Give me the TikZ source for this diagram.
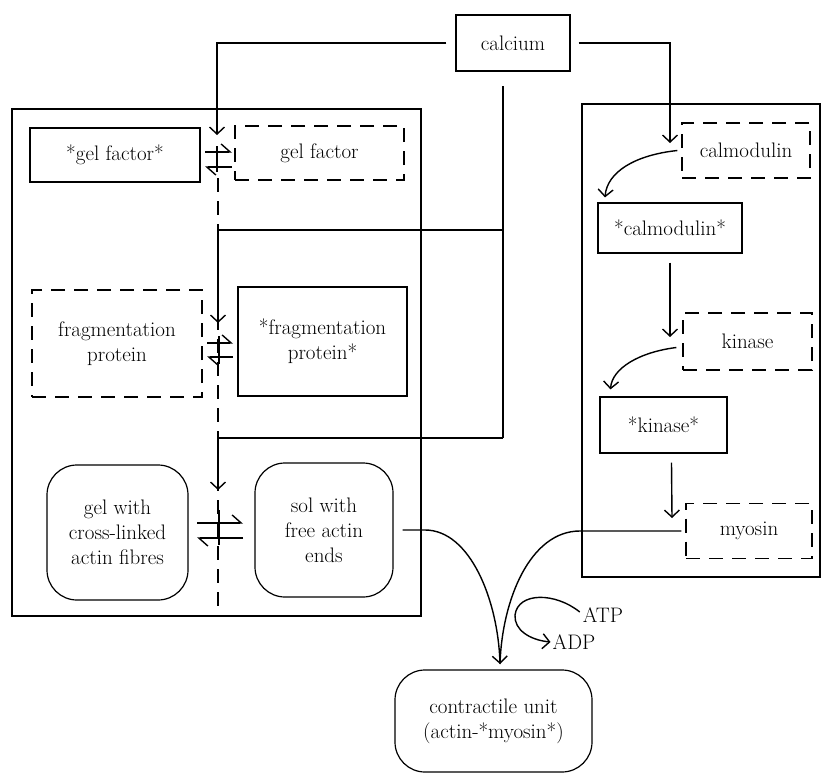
\documentclass[tikz,border=0pt]{standalone}
\usetikzlibrary{arrows.meta}
\begin{document}
\begin{tikzpicture}[x=1pt,y=-1pt,
  every node/.style={font=\fontsize{21}{25}\selectfont, align=center, inner sep=0pt},
  solidbox/.style={draw, line width=1.2pt},
  dashbox/.style={draw, line width=1.2pt, dash pattern=on 14pt off 9pt},
  roundbox/.style={draw, line width=1.2pt, rounded corners=30pt},
  conn/.style={line width=1.4pt},
  tip/.style={-{Straight Barb[length=7pt,width=15pt,line width=1.4pt]}},
  harp/.style={line width=1.4pt, -{Straight Barb[harpoon,length=9pt,width=16pt,line width=1.4pt]}},
  dashline/.style={line width=1.2pt, dash pattern=on 14pt off 9pt},
]
\useasboundingbox (0,0) rectangle (822,776);

% outer frames
\draw[line width=1.3pt] (12,109) rectangle (421,616);
\draw[line width=1.3pt] (582,104) rectangle (820,577);

% nodes
\node[solidbox, minimum width=114pt, minimum height=56pt] (calcium) at (513,43) {calcium};

\node[solidbox, minimum width=170pt, minimum height=54pt] (gelA) at (115,155) {*gel factor*};
\node[dashbox, minimum width=169pt, minimum height=54pt] (gelB) at (319.5,153) {gel factor};

\node[dashbox, minimum width=170pt, minimum height=107pt] (fragA) at (117,343.5) {fragmentation\\protein};
\node[solidbox, minimum width=169pt, minimum height=109pt] (fragB) at (322.5,341.5) {*fragmentation\\protein*};

\node[roundbox, minimum width=141pt, minimum height=135pt] (gel) at (117.5,532.5) {gel with\\cross-linked\\actin fibres};
\node[roundbox, minimum width=138pt, minimum height=134pt] (sol) at (324,530) {sol with\\free actin\\ends};

\node[dashbox, minimum width=128pt, minimum height=55pt] (calmod) at (746,150.5) {calmodulin};
\node[solidbox, minimum width=144pt, minimum height=50pt] (acalmod) at (670,228) {*calmodulin*};
\node[dashbox, minimum width=129pt, minimum height=57pt] (kinase) at (747.5,341.5) {kinase};
\node[solidbox, minimum width=127pt, minimum height=56pt] (akinase) at (663.5,425) {*kinase*};
\node[dashbox, minimum width=126pt, minimum height=55pt] (myosin) at (749,531) {myosin};

\node[roundbox, minimum width=197pt, minimum height=102pt] (contr) at (493.5,721) {contractile unit\\(actin-*myosin*)};

\node (atp) at (603,615) {ATP};
\node (adp) at (574,642) {ADP};

% coordinates
\coordinate (t1) at (217,135);
\coordinate (ca1) at (503,86);
\coordinate (j1) at (503,230);
\coordinate (j2) at (503,438);
\coordinate (t2) at (218,323);
\coordinate (t3) at (218,490);
\coordinate (t4) at (670,143);
\coordinate (cm) at (500,664);

% dashed divider
\draw[dashline] (218,178) -- (218,616);

% calcium connectors
\draw[conn,tip] ([xshift=-9pt]calcium.west) -| (t1);
\draw[conn] (ca1) -- (j2);
\draw[conn,tip] (j1) -| (t2);
\draw[conn,tip] (j2) -| (t3);
\draw[conn,tip] ([xshift=8pt]calcium.east) -| (t4);

% equilibrium harpoons
\draw[harp] (205,152) -- (232,152);
\draw[harp] (232,167) -- (205,167);
\draw[conn] (217,146) -- (217,172);
\draw[harp] (207,343) -- (233,343);
\draw[harp] (233,357) -- (207,357);
\draw[conn] (219,336) -- (219,364);
\draw[harp] (197,523) -- (243,523);
\draw[harp] (243,538) -- (197,538);
\draw[conn] (219,510) -- (219,545);

% right-hand cascade
\draw[conn,tip] ([xshift=-4pt]calmod.west) .. controls (635,155) and (607,172) .. ([xshift=-65pt,yshift=5pt]acalmod.north);
\draw[conn,tip] ([yshift=-9pt]acalmod.south) -- (670,337);
\draw[conn,tip] ([xshift=-6pt,yshift=-6pt]kinase.west) .. controls (640,352) and (612,368) .. ([xshift=-53pt,yshift=7pt]akinase.north);
\draw[conn,tip] ([xshift=8pt,yshift=-9pt]akinase.south) -- (672,518);

% to contractile unit
\draw[conn] ([xshift=-4pt]myosin.west) -- (580,531) .. controls (530,531) and (502,600) .. (cm);
\draw[conn,tip] ([xshift=9pt]sol.east) -- (425,530) .. controls (470,530) and (498,600) .. (cm);

% ATP -> ADP
\draw[conn,tip] ([xshift=-3pt,yshift=3pt]atp.west) .. controls (555,592) and (518,592) .. (515,615) .. controls (514,630) and (530,640) .. ([xshift=-2pt]adp.west);

\end{tikzpicture}
\end{document}
